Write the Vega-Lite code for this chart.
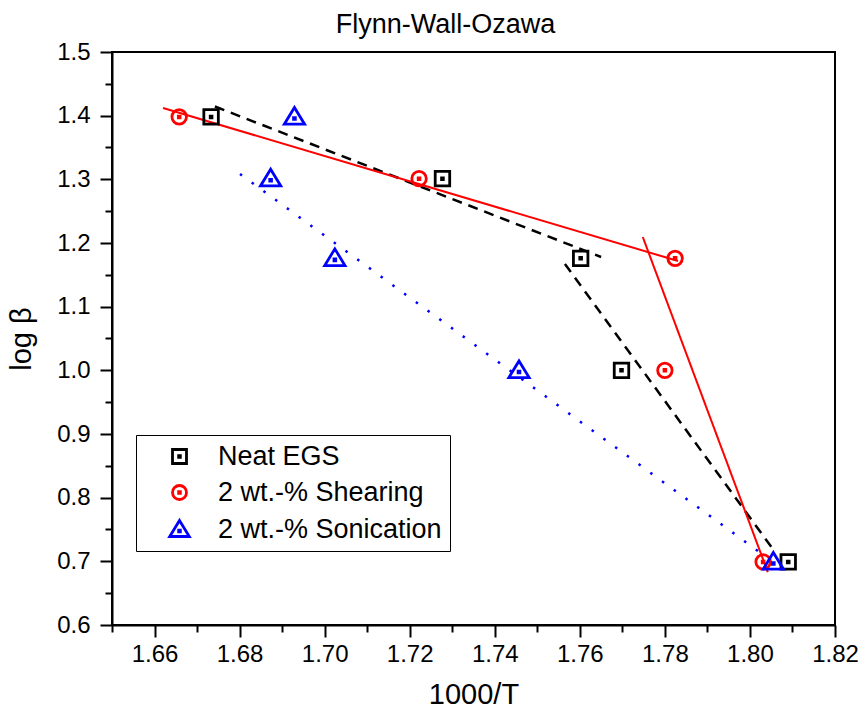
{
  "$schema": "https://vega.github.io/schema/vega-lite/v6.json",
  "width": 723,
  "height": 573,
  "autosize": {"type": "none"},
  "padding": {"left": 112, "top": 52, "right": 27, "bottom": 89},
  "background": "white",
  "config": {
    "view": {"stroke": "black", "strokeWidth": 2},
    "font": "Liberation Sans"
  },
  "title": {
    "text": "Flynn-Wall-Ozawa",
    "font": "Liberation Sans",
    "fontSize": 27,
    "fontWeight": "normal",
    "color": "black",
    "anchor": "middle",
    "baseline": "alphabetic",
    "offset": -20,
    "dx": -28
  },
  "datasets": {
    "pts": [
      {"series": "Neat EGS", "x": 1.6733, "y": 1.398},
      {"series": "Neat EGS", "x": 1.7277, "y": 1.301},
      {"series": "Neat EGS", "x": 1.7602, "y": 1.176},
      {"series": "Neat EGS", "x": 1.7698, "y": 1.0},
      {"series": "Neat EGS", "x": 1.809, "y": 0.699},
      {"series": "2 wt.-% Shearing", "x": 1.6658, "y": 1.398},
      {"series": "2 wt.-% Shearing", "x": 1.7222, "y": 1.301},
      {"series": "2 wt.-% Shearing", "x": 1.7824, "y": 1.176},
      {"series": "2 wt.-% Shearing", "x": 1.78, "y": 1.0},
      {"series": "2 wt.-% Shearing", "x": 1.8031, "y": 0.699},
      {"series": "2 wt.-% Sonication", "x": 1.6929, "y": 1.398},
      {"series": "2 wt.-% Sonication", "x": 1.6873, "y": 1.301},
      {"series": "2 wt.-% Sonication", "x": 1.7024, "y": 1.176},
      {"series": "2 wt.-% Sonication", "x": 1.7457, "y": 1.0},
      {"series": "2 wt.-% Sonication", "x": 1.8055, "y": 0.699}
    ],
    "fits": [
      {"series": "Neat EGS", "seg": "a", "x": 1.6742, "y": 1.4144},
      {"series": "Neat EGS", "seg": "a", "x": 1.765, "y": 1.178},
      {"series": "Neat EGS", "seg": "b", "x": 1.7565, "y": 1.167},
      {"series": "Neat EGS", "seg": "b", "x": 1.8059, "y": 0.7147},
      {"series": "2 wt.-% Shearing", "seg": "a", "x": 1.662, "y": 1.412},
      {"series": "2 wt.-% Shearing", "seg": "a", "x": 1.7831, "y": 1.1717},
      {"series": "2 wt.-% Shearing", "seg": "b", "x": 1.7748, "y": 1.2094},
      {"series": "2 wt.-% Shearing", "seg": "b", "x": 1.8042, "y": 0.6832},
      {"series": "2 wt.-% Sonication", "seg": "a", "x": 1.6801, "y": 1.3084},
      {"series": "2 wt.-% Sonication", "seg": "a", "x": 1.8035, "y": 0.7084}
    ]
  },
  "encoding": {
    "x": {
      "field": "x",
      "type": "quantitative",
      "scale": {"domain": [1.65, 1.82], "nice": false, "zero": false},
      "axis": {
        "title": "1000/T",
        "titleFont": "Liberation Sans",
        "titleFontSize": 29,
        "titleFontWeight": "normal",
        "titleColor": "black",
        "titlePadding": 14,
        "values": [1.65, 1.66, 1.67, 1.68, 1.69, 1.7, 1.71, 1.72, 1.73, 1.74, 1.75, 1.76, 1.77, 1.78, 1.79, 1.8, 1.81, 1.82],
        "labelExpr": "round(datum.value*100) % 2 == 0 ? format(datum.value, '.2f') : ''",
        "labelFont": "Liberation Sans",
        "labelFontSize": 24,
        "labelColor": "black",
        "labelPadding": 5,
        "labelOverlap": false,
        "labelFlush": false,
        "labelBound": false,
        "tickColor": "black",
        "tickWidth": 2,
        "tickSize": {"condition": {"test": "round(datum.value*100) % 2 == 0", "value": 12}, "value": 7},
        "domainColor": "black",
        "domainWidth": 2,
        "grid": false
      }
    },
    "y": {
      "field": "y",
      "type": "quantitative",
      "scale": {"domain": [0.6, 1.5], "nice": false, "zero": false},
      "axis": {
        "title": "log β",
        "titleFont": "Liberation Sans",
        "titleFontSize": 29,
        "titleFontWeight": "normal",
        "titleColor": "black",
        "titlePadding": 20,
        "values": [0.6, 0.65, 0.7, 0.75, 0.8, 0.85, 0.9, 0.95, 1.0, 1.05, 1.1, 1.15, 1.2, 1.25, 1.3, 1.35, 1.4, 1.45, 1.5],
        "labelExpr": "round(datum.value*100) % 10 == 0 ? format(datum.value, '.1f') : ''",
        "labelFont": "Liberation Sans",
        "labelFontSize": 24,
        "labelColor": "black",
        "labelPadding": 10,
        "labelOverlap": false,
        "labelFlush": false,
        "labelBound": false,
        "tickColor": "black",
        "tickWidth": 2,
        "tickSize": {"condition": {"test": "round(datum.value*100) % 10 == 0", "value": 12}, "value": 7},
        "domainColor": "black",
        "domainWidth": 2,
        "grid": false
      }
    }
  },
  "layer": [
    {
      "data": {"name": "fits"},
      "transform": [{"filter": "datum.series == 'Neat EGS'"}],
      "mark": {"type": "line", "color": "black", "strokeWidth": 2.5, "strokeDash": [10, 7]},
      "encoding": {"detail": {"field": "seg"}}
    },
    {
      "data": {"name": "fits"},
      "transform": [{"filter": "datum.series == '2 wt.-% Shearing'"}],
      "mark": {"type": "line", "color": "#ff0000", "strokeWidth": 2},
      "encoding": {"detail": {"field": "seg"}}
    },
    {
      "data": {"name": "fits"},
      "transform": [{"filter": "datum.series == '2 wt.-% Sonication'"}],
      "mark": {"type": "line", "color": "#0000ff", "strokeWidth": 2.5, "strokeDash": [2.5, 12]},
      "encoding": {"detail": {"field": "seg"}}
    },
    {
      "data": {"name": "pts"},
      "mark": {"type": "point", "filled": false, "size": 210, "strokeWidth": 2.8, "opacity": 1},
      "encoding": {
        "color": {
          "field": "series",
          "type": "nominal",
          "scale": {"domain": ["Neat EGS", "2 wt.-% Shearing", "2 wt.-% Sonication"], "range": ["#000000", "#ff0000", "#0000ff"]},
          "legend": {
            "title": null,
            "orient": "none",
            "legendX": 24,
            "legendY": 383,
            "padding": 8,
            "strokeColor": "black",
            "labelFont": "Liberation Sans",
            "labelFontSize": 27,
            "labelColor": "black",
            "labelLimit": 500,
            "symbolSize": 196,
            "symbolStrokeWidth": 2.8,
            "symbolOffset": 22,
            "labelOffset": 25,
            "rowPadding": 8,
            "encode": {"legend": {"update": {"strokeWidth": {"value": 1.5}}}}
          }
        },
        "shape": {
          "field": "series",
          "type": "nominal",
          "scale": {
            "domain": ["Neat EGS", "2 wt.-% Shearing", "2 wt.-% Sonication"],
            "range": [
              "M-1,-1H1V1H-1Z M-0.12,-0.12H0.12V0.12H-0.12Z",
              "M-1,0A1,1,0,1,0,1,0A1,1,0,1,0,-1,0Z M-0.12,-0.12H0.12V0.12H-0.12Z",
              "M0,-1.3L1.4,1L-1.4,1Z M-0.12,0.1H0.12V0.34H-0.12Z"
            ]
          },
          "legend": {
            "title": null,
            "orient": "none",
            "legendX": 24,
            "legendY": 383,
            "padding": 8,
            "strokeColor": "black",
            "labelFont": "Liberation Sans",
            "labelFontSize": 27,
            "labelColor": "black",
            "labelLimit": 500,
            "symbolSize": 196,
            "symbolStrokeWidth": 2.8,
            "symbolOffset": 22,
            "labelOffset": 25,
            "rowPadding": 8,
            "encode": {"legend": {"update": {"strokeWidth": {"value": 1.5}}}}
          }
        }
      }
    }
  ]
}
